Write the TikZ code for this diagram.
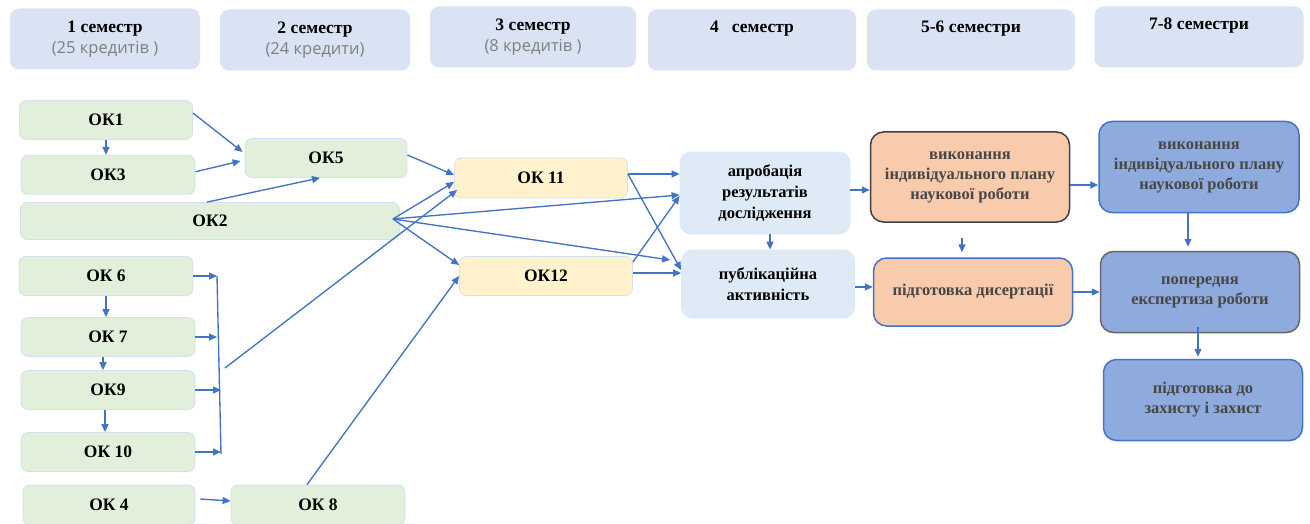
\documentclass[tikz,border=0pt]{standalone}
\usepackage{fontspec}
\setmainfont{Liberation Serif}
\newfontfamily\credfont{Open Sans}
\usetikzlibrary{calc}
\usetikzlibrary{positioning}
\usetikzlibrary{arrows.meta}
\definecolor{semfill}{HTML}{DAE3F3}
\definecolor{okfill}{HTML}{E2EFDA}
\definecolor{okline}{HTML}{D3E0EE}
\definecolor{yelfill}{HTML}{FFF2CC}
\definecolor{lbfill}{HTML}{DEEBF7}
\definecolor{orfill}{HTML}{F8CBAD}
\definecolor{dbfill}{HTML}{8FAADC}
\definecolor{arrblue}{HTML}{4472C4}
\definecolor{darkline}{HTML}{404040}
\definecolor{credgray}{HTML}{7F7F7F}
\definecolor{shadowtext}{HTML}{474747}
\newcommand{\credits}[1]{{\credfont\fontsize{16.5}{21}\selectfont\color{credgray}#1}}
\tikzset{x=1pt, y=-1pt,
  every node/.style={align=center},
  semester/.style={ % header of each column
    rectangle, rounded corners=9pt, fill=semfill,
    minimum width=190pt, minimum height=61pt,
    font=\fontsize{17.5}{21}\selectfont},
  okbox/.style={ % compulsory components
    rectangle, rounded corners=7pt, fill=okfill, draw=okline, line width=0.8pt,
    minimum width=174pt, minimum height=39pt,
    font=\bfseries\fontsize{17.5}{20}\selectfont},
  yelbox/.style={okbox, fill=yelfill},
  workbox/.style={
    rectangle, rounded corners=11pt, fill=lbfill, draw=lbfill!80!okline, line width=0.8pt,
    minimum width=172pt,
    font=\bfseries\fontsize{16.5}{21}\selectfont},
  planbox/.style={
    rectangle, rounded corners=13pt, line width=1.5pt,
    minimum width=199pt, text=shadowtext,
    font=\bfseries\fontsize{16.5}{20}\selectfont},
  orbox/.style={planbox, fill=orfill},
  dbbox/.style={planbox, fill=dbfill},
  line/.style={draw=arrblue, line width=1.35pt},
  arr/.style={line, -{Triangle[length=8pt,width=7pt]}}
}
\begin{document}
\begin{tikzpicture}
  \useasboundingbox (0,0) rectangle (1310,524);

  % semesters
  \node [semester] (sem1) at (105,39) {\textbf{1 семестр}\\\credits{(25 кредитів )}};
  \node [semester] (sem2) at (315,40) {\textbf{2 семестр}\\\credits{(24 кредити)}};
  \node [semester, minimum width=206pt] (sem3) at (533,37) {\textbf{3 семестр}\\\credits{(8 кредитів )}};
  \node [semester, minimum width=208pt] (sem4) at (752,40) {\textbf{4\ \ \ семестр}\\\strut};
  \node [semester, minimum width=208pt] (sem56) at (971,40) {\textbf{5-6 семестри}\\\strut};
  \node [semester, minimum width=209pt] (sem78) at (1199,37) {\textbf{7-8 семестри}\\\strut};

  % first year
  \node [okbox, minimum width=173pt] (ok1) at (106,120) {ОК1};
  \node [okbox, below=15pt of ok1.south, anchor=north, xshift=2pt] (ok3) {ОК3};
  \node [okbox, minimum width=379pt, minimum height=37pt] (ok2) at (210,221) {ОК2};
  \node [okbox, minimum width=162pt] (ok5) at (326,158) {ОК5};
  \node [okbox] (ok6) at (106,276) {ОК 6};
  \node [okbox] (ok7) at (108,337) {ОК 7};
  \node [okbox] (ok9) at (108,390) {ОК9};
  \node [okbox] (ok10) at (108,452) {ОК 10};
  \node [okbox, minimum width=172pt, minimum height=40pt] (ok4) at (109,505) {ОК 4};
  \node [okbox, minimum height=40pt] (ok8) at (318,505) {ОК 8};

  % second year
  \node [yelbox, minimum width=173pt, minimum height=40pt] (ok11) at (541,178) {ОК 11};
  \node [yelbox, minimum width=173pt] (ok12) at (546,276) {ОК12};
  \node [workbox, minimum width=170pt, minimum height=82pt] (aprob) at (765,193) {апробація\\результатів\\дослідження};
  \node [workbox, minimum width=173pt, minimum height=68pt] (publ) at (768,284) {публікаційна\\активність};

  % dissertation
  \node [orbox, draw=darkline, minimum height=90pt] (plan1) at (970,177) {виконання\\індивідуального плану\\наукової роботи};
  \node [orbox, draw=arrblue, minimum height=68pt] (diss) at (973,292) {підготовка дисертації};
  \node [dbbox, draw=arrblue, minimum width=200pt, minimum height=91pt] (plan2) at (1199,167) {виконання\\індивідуального плану\\наукової роботи};
  \node [dbbox, draw=darkline!80, minimum height=81pt] (expert) at (1200,292) {попередня\\експертиза роботи};
  \node [dbbox, draw=arrblue, minimum height=81pt] (defence) at (1203,400) {підготовка до\\захисту і захист};

  \coordinate (brtop) at (217,276);
  \coordinate (brbot) at (221,454);
  \coordinate (brout) at (225,368);
  \coordinate (ok2out) at ([xshift=-7pt,yshift=2pt]ok2.east);

  % first year links
  \draw [arr] ([yshift=7pt]ok1.east) -- ([xshift=-2pt,yshift=6pt]ok5.west);
  \draw [arr] (ok1.south) -- ([xshift=-2pt]ok3.north);
  \draw [arr] ([yshift=3pt]ok3.east) -- ([xshift=-4pt,yshift=-3pt]ok5.west);
  \draw [arr] ([xshift=-3pt]ok2.north) -- ([xshift=-6pt]ok5.south);
  \draw [arr] (ok6.south) -- ([xshift=-2pt]ok7.north);
  \draw [arr] ([xshift=-5pt]ok7.south) -- ([xshift=-5pt]ok9.north);
  \draw [arr] ([xshift=-3pt]ok9.south) -- ([xshift=-3pt]ok10.north);
  \draw [arr] ([xshift=5pt,yshift=6pt]ok4.east) -- ([yshift=4pt]ok8.west);

  % bracket
  \draw [arr] (ok6.east) -- (ok6.east -| brtop);
  \draw [arr] (ok7.east) -- (ok7.east -| brtop);
  \draw [arr] (ok9.east) -- (ok9.east -| brbot);
  \draw [arr] (ok10.east) -- (ok10.east -| brbot);
  \draw [line] (brtop) -- (brbot);

  % into third semester
  \draw [arr] ([yshift=3pt]ok5.east) -- ([yshift=3pt]ok11.west);
  \draw [arr] (ok2out) -- ([yshift=-4pt]ok11.west);
  \draw [arr] (brout) -- ([xshift=3pt,yshift=-12pt]ok11.west);
  \draw [arr] (ok2out) -- ([yshift=11pt]ok12.west);
  \draw [arr] ([xshift=-11pt]ok8.north) -- (ok12.west);
  \draw [arr] (ok2out) -- ([yshift=-2pt]aprob.west);
  \draw [arr] (ok2out) -- ([xshift=-11pt,yshift=24pt]publ.west);

  % into fourth semester
  \draw [arr] ([yshift=4pt]ok11.east) -- ([yshift=19pt]aprob.west);
  \draw [arr] ([yshift=4pt]ok11.east) -- ([yshift=14pt]publ.west);
  \draw [arr] ([yshift=14pt]ok12.east) -- ([yshift=-3pt]aprob.west);
  \draw [arr] ([yshift=3pt]ok12.east) -- ([yshift=11pt]publ.west);
  \draw [arr] ([xshift=5pt]aprob.south) -- ([xshift=2pt]publ.north);

  % dissertation links
  \draw [arr] ([yshift=3pt]aprob.east) -- ([yshift=-13pt]plan1.west);
  \draw [arr] ([yshift=-3pt]publ.east) -- ([yshift=5pt]diss.west);
  \draw [arr] ([xshift=-8pt,yshift=-15pt]plan1.south) -- ([xshift=-11pt,yshift=5pt]diss.north);
  \draw [arr] ([yshift=-8pt]plan1.east) -- ([yshift=-18pt]plan2.west);
  \draw [arr] (diss.east) -- (expert.west);
  \draw [arr] ([xshift=-11pt]plan2.south) -- ([xshift=-12pt,yshift=4pt]expert.north);
  \draw [arr] ([xshift=-2pt,yshift=6pt]expert.south) -- ([xshift=-5pt,yshift=2pt]defence.north);

\end{tikzpicture}
\end{document}
